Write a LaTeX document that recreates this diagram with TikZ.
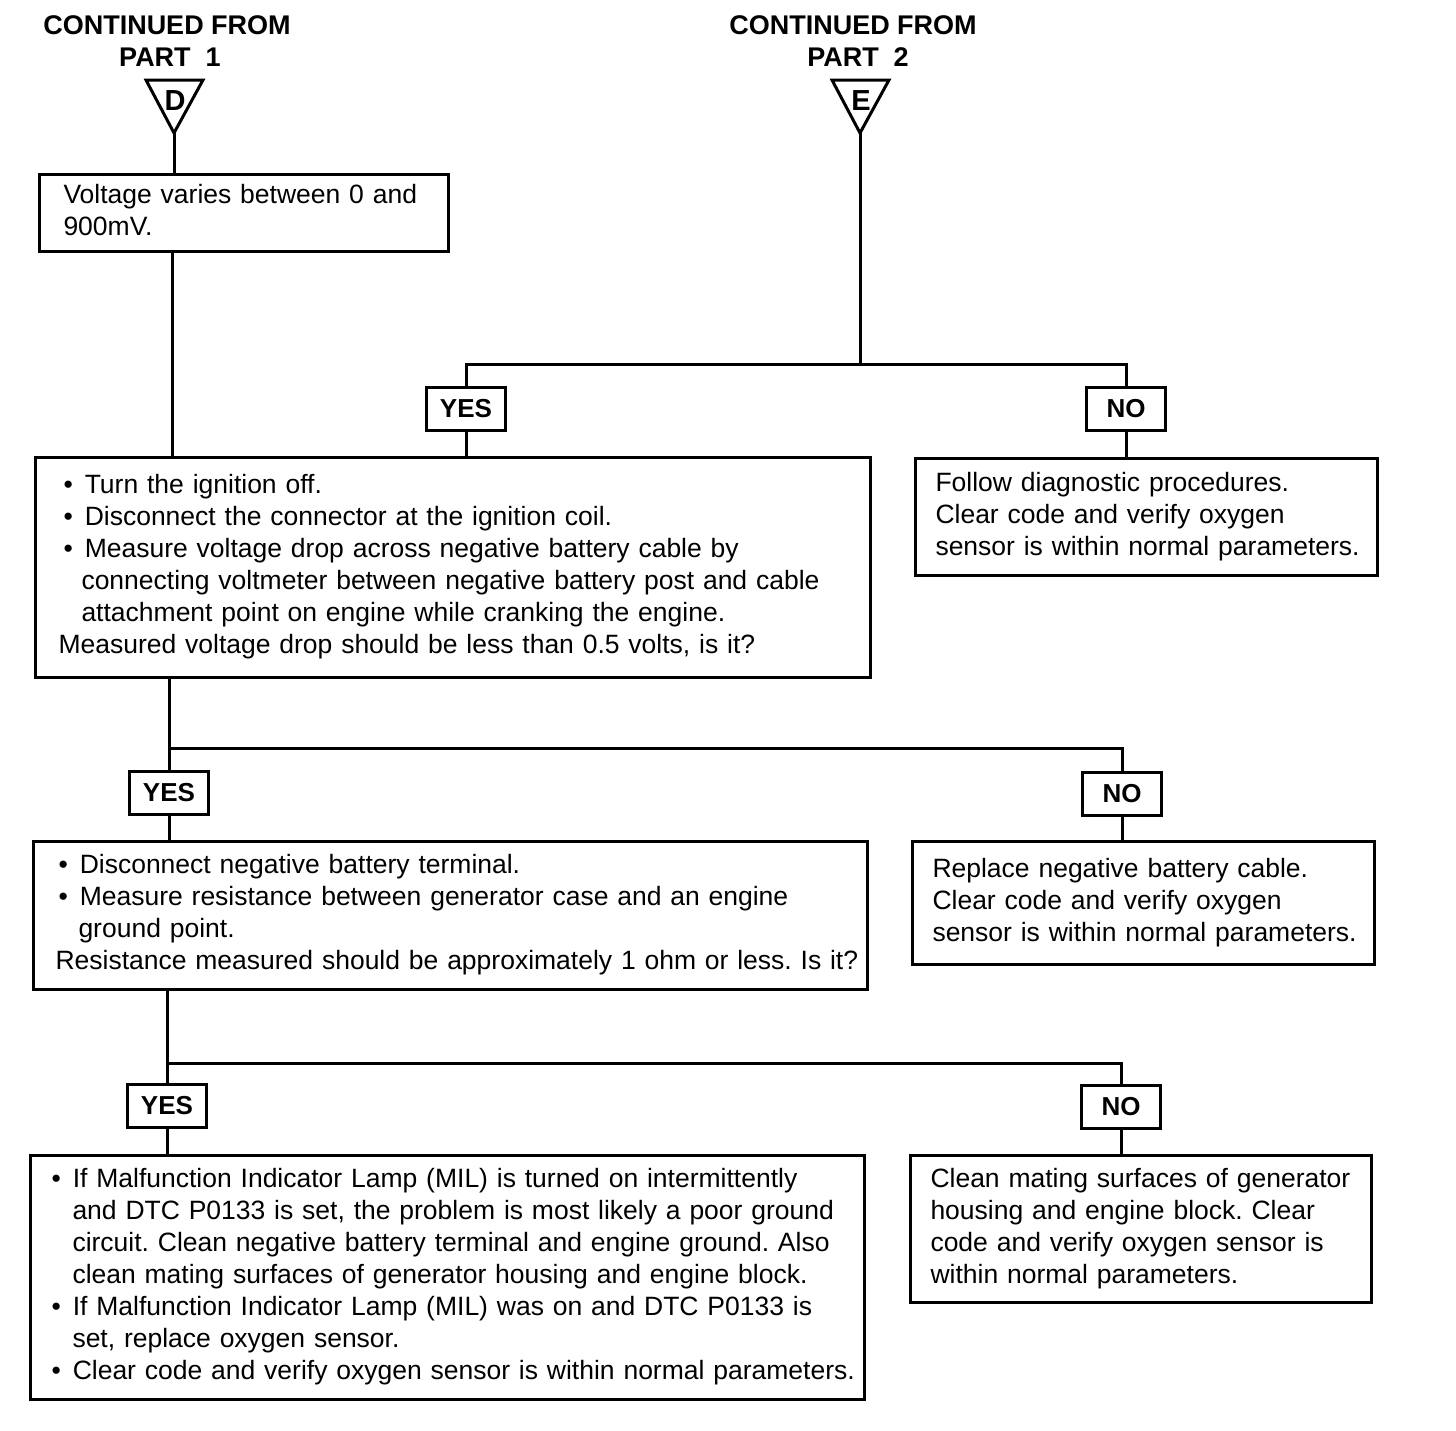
\documentclass[tikz,border=0pt]{standalone}
\usepackage{fontspec}
\setmainfont{Liberation Sans}
\newcommand\fs{\fontsize{26.5}{32}\selectfont}
\newcommand\hd{\fontsize{27}{32}\selectfont\bfseries}
\newcommand\itm{\textbullet\hspace{12pt}}
\newcommand\tb[1]{\begin{tabular}{@{}l@{}}#1\end{tabular}}
\frenchspacing
\begin{document}
\begin{tikzpicture}[x=1pt,y=-1pt,
  box/.style={draw, line width=3pt, anchor=north west, align=left, inner ysep=0pt, font=\fs},
  yn/.style={draw, line width=3pt, minimum width=79pt, minimum height=43pt, inner sep=0pt, font=\fontsize{26}{26}\selectfont\bfseries},
  conn/.style={line width=3pt},
  tri/.style={line width=3pt, line join=miter},
  hdr/.style={font=\hd, inner sep=0pt},
  letter/.style={font=\fontsize{29}{32}\selectfont\bfseries, inner sep=0pt}]
\useasboundingbox (0,0) rectangle (1456,1430);
% headers
\node[hdr] (h1a) at (167,25) {CONTINUED FROM};
\node[hdr] (h1b) at (170,57) {PART\ \ 1};
\node[hdr] (h2a) at (853,25) {CONTINUED FROM};
\node[hdr] (h2b) at (858,57) {PART\ \ 2};
% triangles
\draw[tri] (146,80) -- (203,80) -- (174,133) -- cycle;
\coordinate (Dapex) at (174,133);
\node[letter] (Dlet) at (175,101) {D};
\draw[tri] (832,80) -- (889,80) -- (860,133) -- cycle;
\coordinate (Eapex) at (860,133);
\node[letter] (Elet) at (861,101) {E};
% boxes
\node[box, inner xsep=24pt, text width=361pt, minimum height=77pt] (b1) at (38,173)
 {\raisebox{-3pt}{\tb{Voltage varies between 0 and\\900mV.}}};
\node[box, inner xsep=23pt, text width=789pt, minimum height=220pt] (b2) at (34,456)
 {\tb{\hspace*{5pt}\itm Turn the ignition off.\\
  \hspace*{5pt}\itm Disconnect the connector at the ignition coil.\\
  \hspace*{5pt}\itm Measure voltage drop across negative battery cable by\\
  \hspace*{23pt}connecting voltmeter between negative battery post and cable\\
  \hspace*{23pt}attachment point on engine while cranking the engine.\\
  Measured voltage drop should be less than 0.5 volts, is it?}};
\node[box, inner xsep=20pt, text width=422pt, minimum height=117pt] (b3) at (914,457)
 {\tb{Follow diagnostic procedures.\\Clear code and verify oxygen\\sensor is within normal parameters.}};
\node[box, inner xsep=22pt, text width=790pt, minimum height=148pt] (b4) at (32,840)
 {\raisebox{-3pt}{\tb{\hspace*{3pt}\itm Disconnect negative battery terminal.\\
  \hspace*{3pt}\itm Measure resistance between generator case and an engine\\
  \hspace*{23pt}ground point.\\
  Resistance measured should be approximately 1 ohm or less. Is it?}}};
\node[box, inner xsep=20pt, text width=422pt, minimum height=123pt] (b5) at (911,840)
 {\tb{Replace negative battery cable.\\Clear code and verify oxygen\\sensor is within normal parameters.}};
\node[box, inner xsep=21pt, text width=792pt, minimum height=244pt] (b6) at (29,1154)
 {\tb{\itm If Malfunction Indicator Lamp (MIL) is turned on intermittently\\
  \hspace*{21pt}and DTC P0133 is set, the problem is most likely a poor ground\\
  \hspace*{21pt}circuit. Clean negative battery terminal and engine ground. Also\\
  \hspace*{21pt}clean mating surfaces of generator housing and engine block.\\
  \itm If Malfunction Indicator Lamp (MIL) was on and DTC P0133 is\\
  \hspace*{21pt}set, replace oxygen sensor.\\
  \itm Clear code and verify oxygen sensor is within normal parameters.}};
\node[box, inner xsep=20pt, text width=421pt, minimum height=147pt] (b7) at (909,1154)
 {\tb{Clean mating surfaces of generator\\housing and engine block. Clear\\code and verify oxygen sensor is\\within normal parameters.}};
% yes/no
\node[yn] (yes1) at (466,409) {YES};
\node[yn] (no1) at (1126,409) {NO};
\node[yn] (yes2) at (169,793) {YES};
\node[yn] (no2) at (1122,794) {NO};
\node[yn] (yes3) at (167,1106) {YES};
\node[yn] (no3) at (1121,1107) {NO};
% junctions
\coordinate (c1) at (172,250);
\coordinate (j1) at (860,364);
\coordinate (j2) at (169,748);
\coordinate (j3) at (167,1063);
% connectors
\draw[conn] (Dapex) -- (Dapex |- b1.north);
\draw[conn] (c1) -- (c1 |- b2.north);
\draw[conn] (Eapex) -- (j1);
\draw[conn] (yes1.north) |- (j1) -| (no1.north);
\draw[conn] (yes1.south) -- (yes1.south |- b2.north);
\draw[conn] (no1.south) -- (no1.south |- b3.north);
\draw[conn] (j2 |- b2.south) -- (yes2.north);
\draw[conn] (j2) -| (no2.north);
\draw[conn] (yes2.south) -- (yes2.south |- b4.north);
\draw[conn] (no2.south) -- (no2.south |- b5.north);
\draw[conn] (j3 |- b4.south) -- (yes3.north);
\draw[conn] (j3) -| (no3.north);
\draw[conn] (yes3.south) -- (yes3.south |- b6.north);
\draw[conn] (no3.south) -- (no3.south |- b7.north);
\end{tikzpicture}
\end{document}
